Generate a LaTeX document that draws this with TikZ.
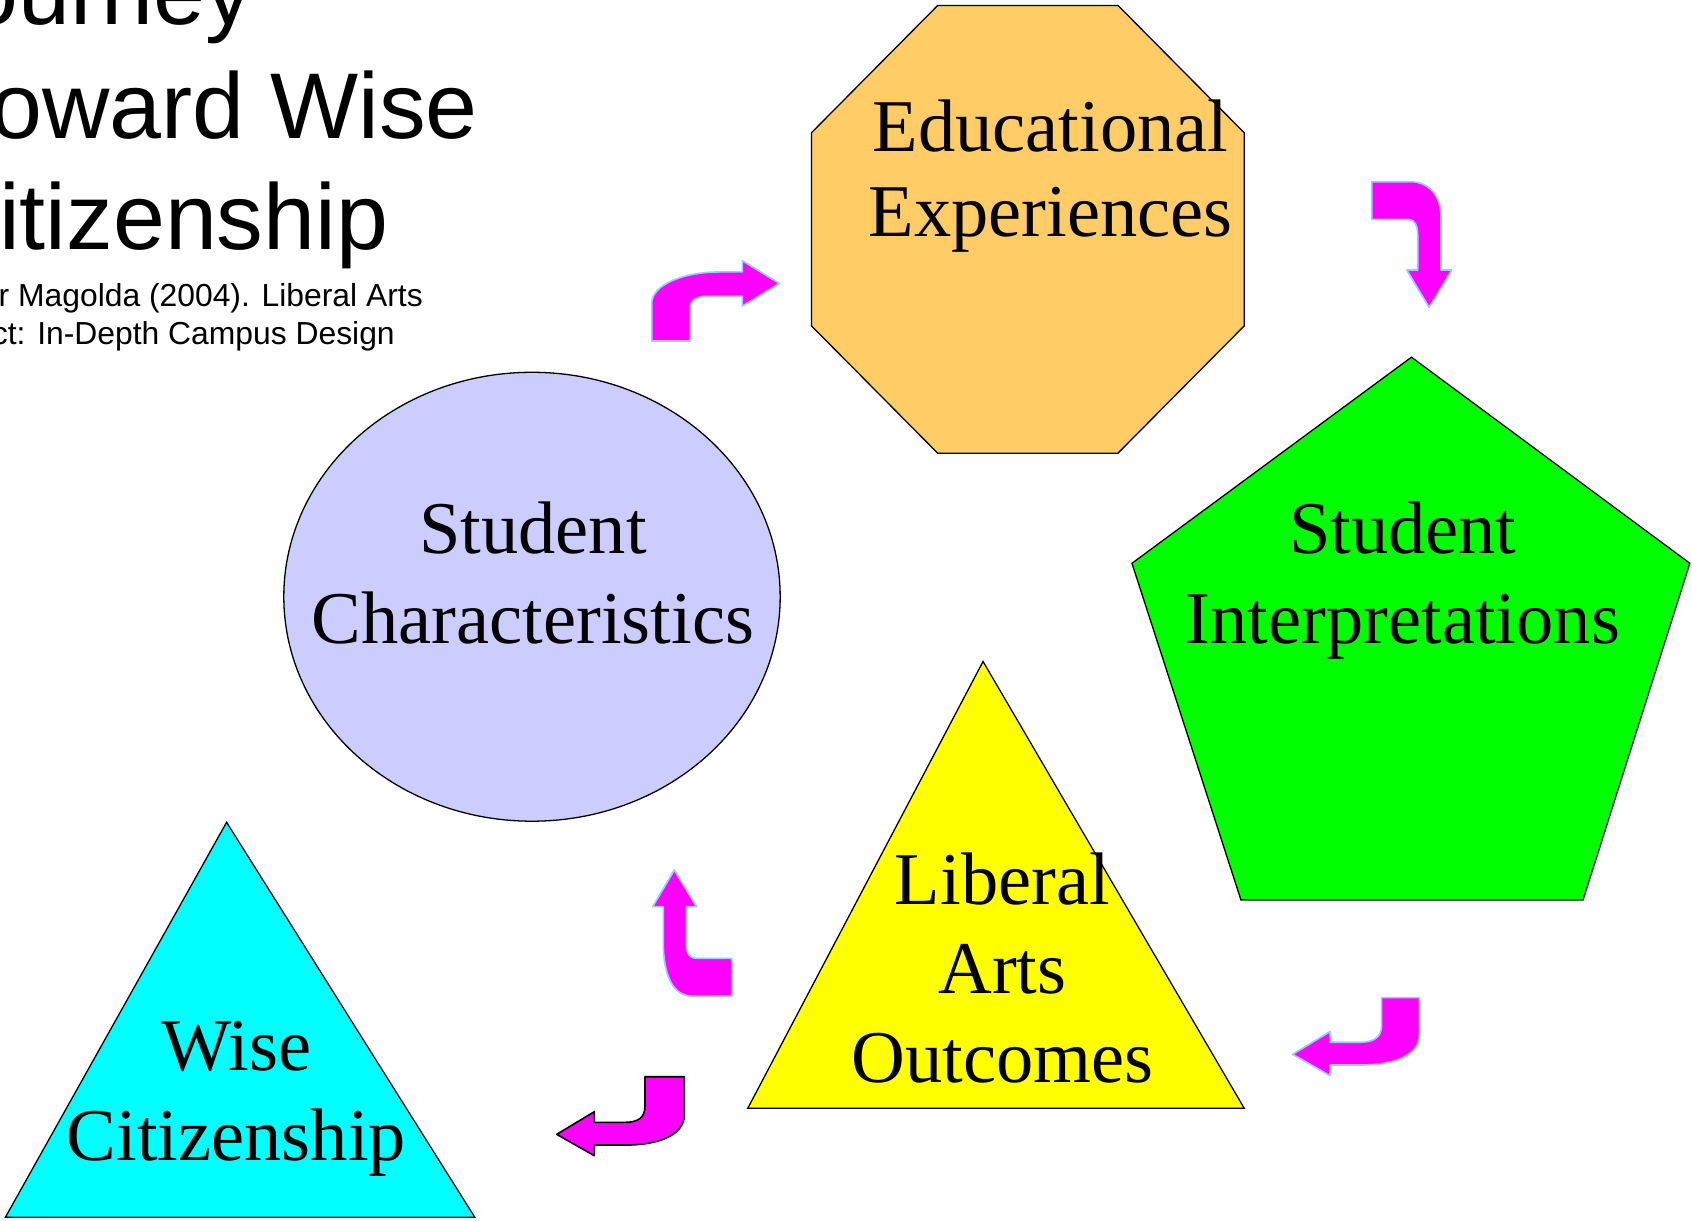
\documentclass[tikz,border=0pt]{standalone}
\usepackage{fontspec}
\setmainfont{Liberation Serif}
\newfontfamily\arialfont{Liberation Sans}
\definecolor{octfill}{RGB}{255,204,102}
\definecolor{ellfill}{RGB}{204,204,255}
\definecolor{pentfill}{RGB}{0,255,0}
\definecolor{yelfill}{RGB}{255,255,0}
\definecolor{cyanfill}{RGB}{0,255,255}
\definecolor{arrowmag}{RGB}{255,0,255}
\definecolor{arrowblue}{RGB}{153,204,255}
\begin{document}
\begin{tikzpicture}[x=1pt,y=-1pt,
  shapeline/.style={draw=black, line width=1.2pt, line join=miter},
  blockarrow/.style={fill=arrowmag, draw=arrowblue, line width=1.5pt, line join=round},
  blockarrowdark/.style={fill=arrowmag, draw=black, line width=1.5pt, line join=round},
  lbl/.style={font=\fontsize{69}{80}\selectfont, inner sep=0pt, anchor=base},
  titletext/.style={font=\arialfont\fontsize{86.5}{100}\selectfont, inner sep=0pt, anchor=base east},
  subtext/.style={font=\arialfont\fontsize{29.5}{35}\selectfont, inner sep=0pt, anchor=base east}]
\path[use as bounding box, fill=white] (0,0) rectangle (1568,1130.6);
\clip (0,0) rectangle (1568,1130.6);

% title
\node[titletext] (t1) at (234,23) {Journey};
\node[titletext] (t2) at (443,128) {Toward Wise};
\node[titletext] (t3) at (360,231) {Citizenship};
\node[subtext] (s1) at (392,284) {Baxter Magolda (2004). Liberal Arts};
\node[subtext] (s2) at (366,319) {Project: In-Depth Campus Design};

% shapes
\draw[shapeline, fill=octfill] (869,5) -- (1036,5) -- (1153,123) -- (1153,302) -- (1036,420) -- (869,420) -- (752,302) -- (752,123) -- cycle;
\draw[shapeline, fill=ellfill] (493,553) ellipse [x radius=230, y radius=208];
\draw[shapeline, fill=pentfill] (1308,331) -- (1566,522) -- (1467,834) -- (1150,834) -- (1049,522) -- cycle;
\draw[shapeline, fill=yelfill] (911,613) -- (1153,1027) -- (693,1027) -- cycle;
\draw[shapeline, fill=cyanfill] (210,762) -- (440,1128) -- (5,1128) -- cycle;

% labels
\node[lbl] (edu1) at (973.5,140.5) {Educational};
\node[lbl] (edu2) at (973.5,219.5) {Experiences};
\node[lbl] (sc1) at (494,513) {Student};
\node[lbl] (sc2) at (494,596) {Characteristics};
\node[lbl] (si1) at (1300,513) {Student};
\node[lbl] (si2) at (1300,596) {Interpretations};
\node[lbl] (la1) at (929,838) {Liberal};
\node[lbl] (la2) at (929,921) {Arts};
\node[lbl] (la3) at (929,1003) {Outcomes};
\node[lbl] (wc1) at (219,992) {Wise};
\node[lbl] (wc2) at (219,1075) {Citizenship};

% block arrows
\draw[blockarrow] (604,316) -- (604,281) .. controls (604,264) and (633,252) .. (667,252) -- (688,252) -- (688,241.6) -- (722.2,262.6) -- (688,283.6) -- (688,274.5) -- (656,274.5) .. controls (645,274.5) and (639.4,278) .. (639.4,286) -- (639.4,316) -- cycle;
\draw[blockarrow] (1271.2,168.4) -- (1306.6,168.4) .. controls (1325,168.4) and (1335.4,182) .. (1335.4,201) -- (1335.4,250.2) -- (1345.3,250.2) -- (1324.3,284.8) -- (1303.6,250.2) -- (1313.8,250.2) -- (1313.8,218) .. controls (1313.8,209) and (1311,203.3) .. (1305,203.3) -- (1271.2,203.3) -- cycle;
\draw[blockarrow] (624.9,806.2) -- (645.6,840.2) -- (635.7,840.2) -- (635.7,872) .. controls (635.7,884) and (639,888.1) .. (646,888.1) -- (678.1,888.1) -- (678.1,923) -- (641,923) .. controls (622,923) and (614.7,900) .. (614.7,874) -- (614.7,840.2) -- (604.9,840.2) -- cycle;
\draw[blockarrow] (1280.4,924.5) -- (1315.3,924.5) -- (1315.3,959) .. controls (1315.3,978) and (1292,986.9) .. (1262,986.9) -- (1232.5,986.9) -- (1232.5,996.8) -- (1197.9,977) -- (1232.5,956) -- (1232.5,965.9) -- (1260,965.9) .. controls (1272,965.9) and (1280.4,962) .. (1280.4,950) -- cycle;
\draw[blockarrowdark] (597.7,997.8) -- (634.1,997.8) -- (634.1,1033.3) .. controls (634.1,1052) and (610,1061.1) .. (580,1061.1) -- (550.8,1061.1) -- (550.8,1071) -- (515.9,1051.2) -- (550.8,1030.2) -- (550.8,1040.1) -- (579,1040.1) .. controls (591,1040.1) and (597.7,1036) .. (597.7,1025) -- cycle;
\end{tikzpicture}
\end{document}
